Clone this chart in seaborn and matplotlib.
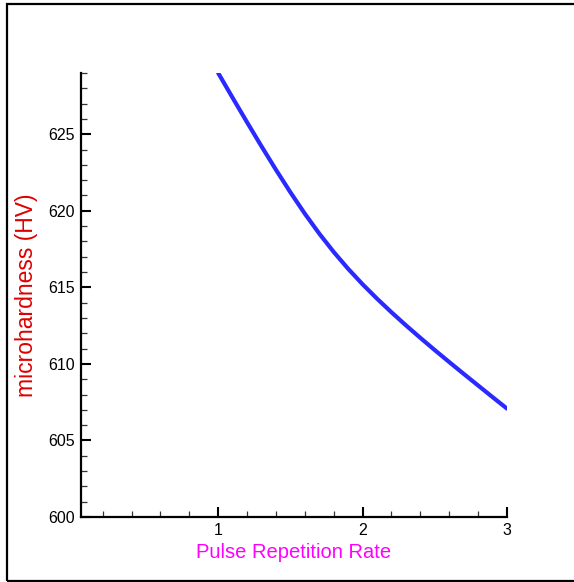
import matplotlib
matplotlib.use("Agg")
import matplotlib.pyplot as plt
from matplotlib.patches import Rectangle
from matplotlib.ticker import MultipleLocator
import seaborn as sns
import pandas as pd

# Data
pulse_rate = [1.0, 1.1, 1.2, 1.3, 1.4, 1.5, 1.6, 1.7, 1.8, 1.9, 2.0,
              2.1, 2.2, 2.3, 2.4, 2.5, 2.6, 2.7, 2.8, 2.9, 3.0]
microhardness = [629.00, 627.38, 625.78, 624.21, 622.68, 621.21, 619.81, 618.51, 617.31, 616.21, 615.20,
                 614.26, 613.37, 612.52, 611.70, 610.90, 610.12, 609.35, 608.59, 607.83, 607.08]
x_ticks = [1, 2, 3]
y_ticks = [600, 605, 610, 615, 620, 625]

df = pd.DataFrame({"rate": pulse_rate, "hv": microhardness})

sns.set_style("ticks")
plt.rcParams["font.family"] = ["Liberation Sans", "DejaVu Sans"]

W, H = 574, 582
fig = plt.figure(figsize=(W / 100, H / 100), dpi=100)
ax = fig.add_axes([81 / W, (H - 517) / H, (507 - 81) / W, (517 - 73) / H])

sns.lineplot(data=df, x="rate", y="hv", ax=ax, color="#2a2aff", linewidth=3.0)
for ln in ax.lines:
    ln.set_solid_joinstyle("round")

ax.set_xlim(0.05, 3.0)
ax.set_ylim(600, 629)
ax.set_xticks(x_ticks)
ax.set_yticks(y_ticks)
ax.xaxis.set_minor_locator(MultipleLocator(0.2))
ax.yaxis.set_minor_locator(MultipleLocator(1))

for s in ["top", "right"]:
    ax.spines[s].set_visible(False)
for s in ["left", "bottom"]:
    ax.spines[s].set_linewidth(1.6)
    ax.spines[s].set_color("black")

ax.tick_params(which="major", direction="in", length=7, width=1.5, colors="black",
               labelsize=11.5, pad=4.5)
ax.tick_params(which="minor", direction="in", length=4, width=0.9, colors="#333333")

ax.set_xlabel("Pulse Repetition Rate", color="#ff00ff", fontsize=14.5)
ax.set_ylabel("microhardness (HV)", color="#dd0000", fontsize=16.5)
ax.xaxis.set_label_coords(0.5, -0.058)
ax.yaxis.set_label_coords(-0.100, 0.5)

fig.patches.append(Rectangle((7 / W, 1.5 / H), 1.2, (578 - 1.5) / H, transform=fig.transFigure,
                             fill=False, edgecolor="black", linewidth=1.6, figure=fig))

fig.savefig("out.png", dpi=100, facecolor="white")
